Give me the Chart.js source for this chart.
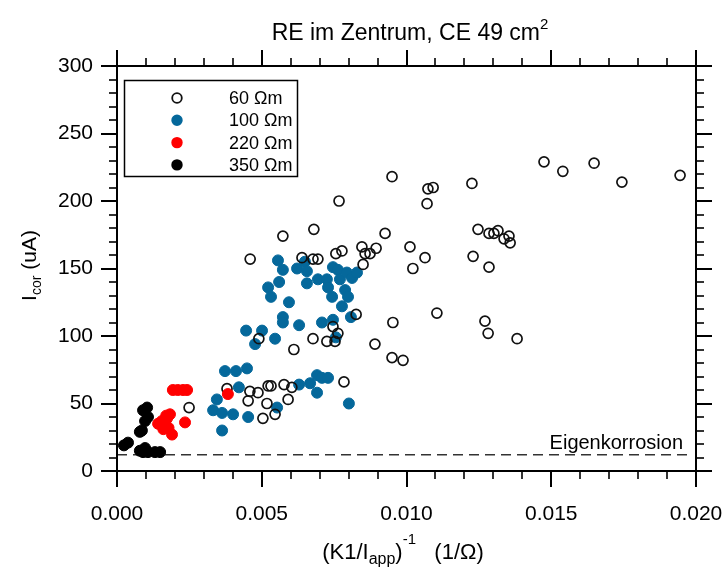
<!DOCTYPE html>
<html>
<head>
<meta charset="utf-8">
<script src="https://cdn.jsdelivr.net/npm/chart.js@4.4.0/dist/chart.umd.min.js"></script>
<style>
  html, body { margin: 0; padding: 0; background: #fff; }
  #wrap { width: 725px; height: 574px; }
</style>
</head>
<body>
<div id="wrap"><canvas id="corrChart" width="725" height="574"></canvas></div>
<script>
// Werte: [ (K1/Iapp)^-1 in 1/Ohm , Icor in uA ]
const seriesNames = ['60 \u03A9m', '100 \u03A9m', '220 \u03A9m', '350 \u03A9m'];

const s60 = [
  [0.0095, 218], [0.01074, 209], [0.01092, 210], [0.01226, 213], [0.01475, 229], [0.0154, 222],
  [0.01648, 228], [0.01744, 214], [0.01945, 219], [0.01071, 198], [0.00767, 200],
  [0.0068, 179], [0.00573, 174], [0.00926, 176],
  [0.01247, 179], [0.01285, 176], [0.01302, 176], [0.01316, 178], [0.01337, 172], [0.01354, 174], [0.01358, 169],
  [0.0046, 157], [0.00639, 158], [0.00677, 157], [0.00694, 157], [0.00756, 161], [0.00777, 163],
  [0.00846, 166], [0.00857, 161], [0.00874, 161], [0.00895, 165], [0.0085, 153], [0.01012, 166],
  [0.01064, 158], [0.01022, 150], [0.0123, 159], [0.01285, 151],
  [0.00826, 116], [0.01105, 117], [0.00953, 110], [0.01271, 111], [0.01282, 102], [0.01382, 98],
  [0.00746, 107], [0.00763, 102], [0.00753, 96], [0.00725, 96], [0.00677, 98], [0.00891, 94],
  [0.00611, 90], [0.0049, 98], [0.0095, 84], [0.00988, 82], [0.00784, 66],
  [0.00249, 47], [0.0038, 61], [0.00459, 59], [0.00487, 58], [0.00522, 63], [0.00532, 63],
  [0.00577, 64], [0.00604, 62], [0.00453, 52], [0.00518, 50], [0.00591, 53], [0.00546, 42], [0.00504, 39]
];

const s100 = [
  [0.00556, 156], [0.00573, 149], [0.00622, 150], [0.0056, 140], [0.00522, 136], [0.00532, 129],
  [0.00594, 125], [0.00656, 139], [0.00694, 142], [0.00725, 142], [0.00729, 136], [0.00743, 129],
  [0.00746, 151], [0.00763, 149], [0.0077, 142], [0.00794, 147], [0.00812, 143], [0.00829, 147],
  [0.00788, 134], [0.00798, 129], [0.00777, 122], [0.00808, 114], [0.00573, 114], [0.00573, 110],
  [0.00629, 108], [0.00708, 110], [0.00746, 112], [0.00756, 99], [0.00446, 104], [0.00501, 104],
  [0.00477, 94], [0.00546, 98], [0.00373, 74], [0.00411, 74], [0.00449, 76], [0.00421, 62],
  [0.00345, 53], [0.00332, 45], [0.00363, 43], [0.00401, 42], [0.00453, 40], [0.00553, 47],
  [0.00629, 64], [0.00667, 65], [0.00691, 71], [0.00708, 69], [0.00729, 69], [0.00691, 58],
  [0.00801, 50], [0.00363, 30], [0.00649, 155], [0.00656, 148]
];

const s220 = [
  [0.00193, 60], [0.0021, 60], [0.00228, 60], [0.00242, 60],
  [0.00183, 42], [0.00173, 39], [0.00155, 37], [0.00142, 35], [0.0016, 31], [0.00178, 32],
  [0.0019, 27], [0.00235, 36], [0.00383, 57], [0.0017, 41]
];

const s350 = [
  [0.00024, 19], [0.00038, 21], [0.0009, 45], [0.00104, 47], [0.00107, 40], [0.00097, 37],
  [0.00086, 30], [0.00079, 29], [0.00079, 15], [0.0009, 14], [0.00107, 14], [0.00131, 14],
  [0.00149, 14], [0.00097, 17]
];

const eigenLevel = 12;
const xMajor = [0, 0.005, 0.010, 0.015, 0.020];
const yMajor = [0, 50, 100, 150, 200, 250, 300];
const xMinorStep = 0.001;
const yMinorStep = 10;

const FONT = '"Liberation Sans", Arial, sans-serif';
const toXY = arr => arr.map(p => ({ x: p[0], y: p[1] }));

// Rahmen mit Haupt- und Nebenstrichen auf allen vier Seiten
const frameTicks = {
  id: 'frameTicks',
  afterDatasetsDraw(chart) {
    const { ctx, chartArea: a, scales: { x, y } } = chart;
    ctx.save();
    ctx.strokeStyle = '#000';
    ctx.lineWidth = 2;
    ctx.strokeRect(a.left, a.top, a.right - a.left, a.bottom - a.top);
    const line = (x1, y1, x2, y2, w) => {
      ctx.lineWidth = w;
      ctx.beginPath(); ctx.moveTo(x1, y1); ctx.lineTo(x2, y2); ctx.stroke();
    };
    const nx = Math.round((x.max - x.min) / xMinorStep);
    for (let i = 0; i <= nx; i++) {
      const px = Math.round(x.getPixelForValue(x.min + i * xMinorStep));
      const major = i % 5 === 0;
      const len = major ? 16 : 8;
      line(px, a.bottom, px, a.bottom + len, major ? 2 : 1.6);
      line(px, a.top, px, a.top - len, major ? 2 : 1.6);
    }
    const ny = Math.round((y.max - y.min) / yMinorStep);
    for (let i = 0; i <= ny; i++) {
      const py = Math.round(y.getPixelForValue(y.min + i * yMinorStep));
      const major = i % 5 === 0;
      const len = major ? 16 : 8;
      line(a.left, py, a.left - len, py, major ? 2 : 1.6);
      line(a.right, py, a.right + len, py, major ? 2 : 1.6);
    }
    ctx.restore();
  }
};

// Titel, Achsentitel mit Hoch-/Tiefstellung, Legende, Beschriftung der Eigenkorrosion
const textLayer = {
  id: 'textLayer',
  afterDraw(chart) {
    const { ctx, chartArea: a, scales: { x, y } } = chart;
    ctx.save();
    ctx.fillStyle = '#000';
    ctx.textBaseline = 'alphabetic';

    // Abschnitte nacheinander zeichnen: [text, size, dy]
    const runs = (parts, x0, y0, center) => {
      let w = 0;
      parts.forEach(p => { ctx.font = p[1] + 'px ' + FONT; w += ctx.measureText(p[0]).width; });
      let cx = center ? x0 - w / 2 : x0;
      ctx.textAlign = 'left';
      parts.forEach(p => {
        ctx.font = p[1] + 'px ' + FONT;
        ctx.fillText(p[0], cx, y0 + p[2]);
        cx += ctx.measureText(p[0]).width;
      });
    };

    runs([['RE im Zentrum, CE 49 cm', 23, 0], ['2', 15, -11]], 410, 40, true);
    runs([['(K1/I', 22, 0], ['app', 16, 5], [')', 22, 0], ['-1', 15, -15], ['   (1/\u03A9)', 22, 0]],
      403, 559, true);

    ctx.save();
    ctx.translate(36, (a.top + a.bottom) / 2 - 3);
    ctx.rotate(-Math.PI / 2);
    runs([['I', 21, 0], ['cor', 14, 5], [' (uA)', 21, 0]], 0, 0, true);
    ctx.restore();

    ctx.font = '20px ' + FONT;
    ctx.textAlign = 'right';
    ctx.fillText('Eigenkorrosion', 683, y.getPixelForValue(eigenLevel) - 6);

    // Legende
    ctx.lineWidth = 1.5;
    ctx.strokeStyle = '#000';
    ctx.strokeRect(124.5, 80.5, 173, 96);
    ctx.font = '18px ' + FONT;
    ctx.textAlign = 'left';
    ctx.textBaseline = 'middle';
    chart.data.datasets.slice(0, 4).forEach((ds, i) => {
      const cy = 98 + i * 22.3;
      ctx.beginPath();
      ctx.arc(177, cy, 4.8, 0, Math.PI * 2);
      if (ds.pointBackgroundColor !== 'rgba(0,0,0,0)') {
        ctx.fillStyle = ds.pointBackgroundColor; ctx.fill();
      }
      ctx.lineWidth = 1.8;
      ctx.strokeStyle = ds.pointBorderColor;
      ctx.stroke();
      ctx.fillStyle = '#000';
      ctx.fillText(ds.label, 229, cy + 1);
    });
    ctx.restore();
  }
};

const ctx = document.getElementById('corrChart').getContext('2d');

new Chart(ctx, {
  type: 'scatter',
  data: {
    datasets: [
      {
        label: seriesNames[0], data: toXY(s60), order: 2,
        pointBackgroundColor: 'rgba(0,0,0,0)', pointBorderColor: '#111',
        pointBorderWidth: 1.7, pointRadius: 5
      },
      {
        label: seriesNames[1], data: toXY(s100), order: 3,
        pointBackgroundColor: '#05689b', pointBorderColor: '#05689b',
        pointBorderWidth: 1, pointRadius: 5.5
      },
      {
        label: seriesNames[2], data: toXY(s220), order: 1,
        pointBackgroundColor: '#ff0000', pointBorderColor: '#ff0000',
        pointBorderWidth: 1, pointRadius: 5.5
      },
      {
        label: seriesNames[3], data: toXY(s350), order: 0,
        pointBackgroundColor: '#000000', pointBorderColor: '#000000',
        pointBorderWidth: 1, pointRadius: 5.5
      },
      {
        label: 'Eigenkorrosion', order: 4,
        data: [{ x: 0, y: eigenLevel }, { x: 0.0197, y: eigenLevel }],
        showLine: true, pointRadius: 0, borderColor: '#333', borderWidth: 1.5,
        borderDash: [10, 6]
      }
    ]
  },
  options: {
    responsive: false,
    animation: false,
    devicePixelRatio: 1,
    layout: { padding: { top: 66, right: 29, left: 0, bottom: 0 } },
    plugins: {
      legend: { display: false },
      title: { display: false },
      tooltip: { enabled: false }
    },
    scales: {
      x: {
        type: 'linear', min: 0, max: 0.02,
        afterFit: s => { s.height = 103; s.paddingLeft = 0; s.paddingRight = 0; },
        afterBuildTicks: s => { s.ticks = xMajor.map(v => ({ value: v })); },
        grid: { display: false, drawTicks: false },
        border: { display: false },
        ticks: {
          color: '#000', font: { family: FONT, size: 21 }, padding: 31,
          autoSkip: false, maxRotation: 0,
          callback: v => v.toFixed(3)
        }
      },
      y: {
        type: 'linear', min: 0, max: 300,
        afterFit: s => { s.width = 117; s.paddingTop = 0; s.paddingBottom = 0; },
        afterBuildTicks: s => { s.ticks = yMajor.map(v => ({ value: v })); },
        grid: { display: false, drawTicks: false },
        border: { display: false },
        ticks: {
          color: '#000', font: { family: FONT, size: 21 }, padding: 24,
          autoSkip: false,
          callback: v => String(v)
        }
      }
    }
  },
  plugins: [frameTicks, textLayer]
});
</script>
</body>
</html>
